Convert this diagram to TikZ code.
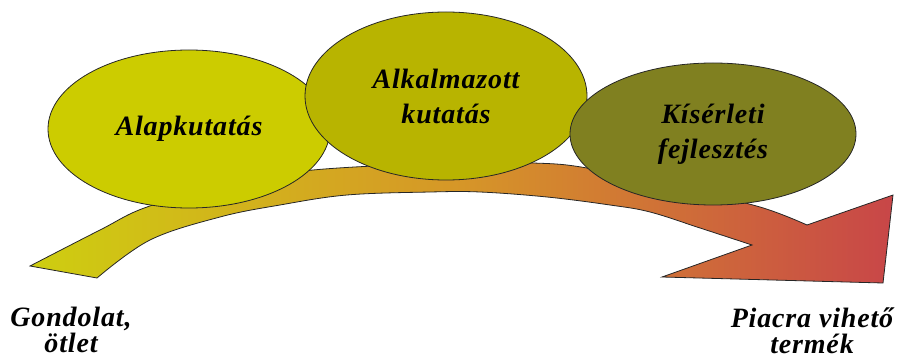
\documentclass[tikz,border=0pt]{standalone}
\usepackage{xcolor}
\usepackage{fontspec}
\usepackage{tikz}
\usetikzlibrary{shapes.geometric}
\setmainfont{Liberation Serif}[LetterSpace=3]
\definecolor{alapcol}{RGB}{204,204,0}
\definecolor{alkcol}{RGB}{184,180,0}
\definecolor{kiscol}{RGB}{128,128,32}
\definecolor{bandL}{RGB}{206,206,16}
\definecolor{bandM}{RGB}{214,150,40}
\definecolor{bandR}{RGB}{200,70,72}
\tikzset{
  blob/.style={ellipse, draw=black!85, line width=0.8pt, inner sep=0pt, align=center, txt},
  txt/.style={font=\fontsize{28}{35}\selectfont\bfseries\itshape, text=black},
  endtxt/.style={align=center, font=\fontsize{28}{26}\selectfont\bfseries\itshape},
  band/.style={draw=black!85, line width=0.8pt, left color=bandL, right color=bandR, middle color=bandM}
}

\begin{document}
\begin{tikzpicture}[x=1pt, y=-1pt]
\useasboundingbox (0,0) rectangle (901,358);
\draw[band] plot[smooth, tension=0.6] coordinates {(30,266) (100,230) (147,207) (230,184) (313,170) (450,163) (533,163) (587,168) (680,188) (760,207) (807,225)}
  -- (893,195) -- (883,283) -- (662,277) -- (752,245)
  -- plot[smooth, tension=0.6] coordinates {(752,245) (700,228) (650,212) (610,205) (547,197) (480,192) (430,192) (347,195) (280,205) (220,217) (150,240) (97,278)}
  -- cycle;
\node[blob, fill=alapcol, minimum width=282pt, minimum height=158pt] (alap) at (189,129) {Alapkutatás};
\node[blob, fill=alkcol, minimum width=282pt, minimum height=168pt] (alk) at (446,96) {Alkalmazott\\kutatás};
\node[blob, fill=kiscol, minimum width=286pt, minimum height=142pt] (kis) at (713,134) {Kísérleti\\fejlesztés};
\node[endtxt] (otlet) at (71,330) {Gondolat,\\ötlet};
\node[endtxt] (termek) at (812,331) {Piacra vihető\\termék};
\end{tikzpicture}
\end{document}
